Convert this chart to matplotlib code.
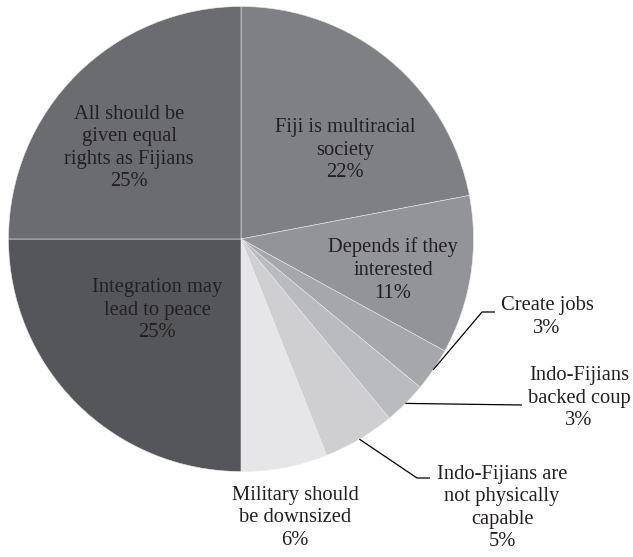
import numpy as np
import matplotlib.pyplot as plt

plt.rcParams['font.family'] = ['Liberation Serif', 'DejaVu Serif']

# Data
labels = ['Fiji is multiracial\nsociety', 'Depends if they\ninterested', 'Create jobs',
          'Indo-Fijians\nbacked coup', 'Indo-Fijians are\nnot physically\ncapable',
          'Military should\nbe downsized', 'Integration may\nlead to peace',
          'All should be\ngiven equal\nrights as Fijians']
values = [22, 11, 3, 3, 5, 6, 25, 25]
colors = ['#7f8084', '#939497', '#a6a7aa', '#babbbe', '#cfcfd1', '#e6e6e8',
          '#555659', '#6b6c70']

W, H = 633, 557
fig = plt.figure(figsize=(W / 100, H / 100), dpi=100)
ax = fig.add_axes([0, 0, 1, 1])

cx, cy, R = 241, H - 239, 232.5
wedges, _ = ax.pie(values, colors=colors, startangle=90, counterclock=False,
                   center=(cx, cy), radius=R, frame=True,
                   wedgeprops=dict(edgecolor='#e8e8e8', linewidth=0.4))
ax.set_xlim(0, W)
ax.set_ylim(0, H)
ax.set_aspect('equal')
ax.axis('off')

txt_color = '#231f20'
# label centres in image pixels (x, y from top)
label_pos = [(345, 150), (393, 270), (547, 317), (579, 398), (502, 508),
             (295, 518), (157, 310), (129, 148)]
# leader line elbows (image pixels), None = no leader
elbows = [None, None, [(482, 312), (495, 312)], [(522, 405)],
          [(417, 478), (430, 478)], None, None, None]

for i, (w, lab, v) in enumerate(zip(wedges, labels, values)):
    x, y = label_pos[i]
    ax.text(x, H - y, f'{lab}\n{v}%', ha='center', va='center', fontsize=14.8,
            color=txt_color, linespacing=1.26)
    if elbows[i] is not None:
        mid = np.deg2rad((w.theta1 + w.theta2) / 2)
        px = [cx + R * np.cos(mid)] + [p[0] for p in elbows[i]]
        py = [cy + R * np.sin(mid)] + [H - p[1] for p in elbows[i]]
        ax.plot(px, py, color='black', lw=0.9, solid_capstyle='butt')

fig.savefig('out.png', dpi=100)
